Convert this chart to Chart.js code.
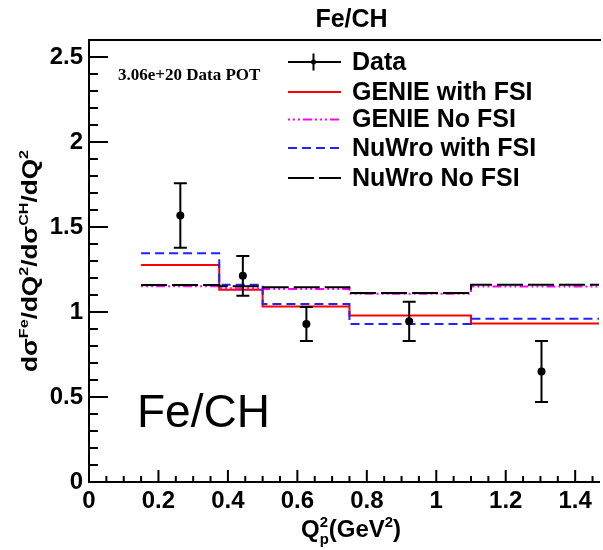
<!DOCTYPE html>
<html>
<head>
<meta charset="utf-8">
<script src="https://cdn.jsdelivr.net/npm/chart.js@4.4.1/dist/chart.umd.min.js"></script>
<style>
  html, body { margin: 0; padding: 0; background: #fff; overflow: hidden; }
</style>
</head>
<body>
<canvas id="ratioChart" width="603" height="550"></canvas>
<script>
const ctx1 = document.getElementById("ratioChart");

// histogram bins (Q2 in GeV^2) and model ratios per bin
const binEdges = [0.15, 0.375, 0.5, 0.75, 1.1, 1.5];
const genieFsi = [1.276, 1.131, 1.033, 0.98, 0.933];
const genieNoFsi = [1.152, 1.14, 1.135, 1.108, 1.15];
const nuwroFsi = [1.345, 1.16, 1.047, 0.93, 0.96];
const nuwroNoFsi = [1.159, 1.151, 1.145, 1.112, 1.16];

// data points with errors
const dataX = [0.263, 0.443, 0.626, 0.922, 1.303];
const dataY = [1.568, 1.213, 0.93, 0.945, 0.65];
const dataErr = [0.19, 0.117, 0.1, 0.115, 0.18];

const xMajorTicks = [0, 0.2, 0.4, 0.6, 0.8, 1, 1.2, 1.4];
const xMinorTicks = [0.05, 0.1, 0.15, 0.25, 0.3, 0.35, 0.45, 0.5, 0.55, 0.65, 0.7, 0.75,
  0.85, 0.9, 0.95, 1.05, 1.1, 1.15, 1.25, 1.3, 1.35, 1.45];
const yMajorTicks = [0, 0.5, 1, 1.5, 2, 2.5];
const yMinorTicks = [0.1, 0.2, 0.3, 0.4, 0.6, 0.7, 0.8, 0.9, 1.1, 1.2, 1.3, 1.4,
  1.6, 1.7, 1.8, 1.9, 2.1, 2.2, 2.3, 2.4, 2.6];

const SANS = "'Liberation Sans', Arial, Helvetica, sans-serif";
const SERIF = "'Liberation Serif', 'Times New Roman', serif";

function histPoints(values) {
  const pts = values.map((v, i) => ({ x: binEdges[i], y: v }));
  pts.push({ x: binEdges[binEdges.length - 1], y: values[values.length - 1] });
  return pts;
}

function histDataset(label, values, color, dash, order) {
  return {
    type: "line",
    label: label,
    data: histPoints(values),
    borderColor: color,
    borderWidth: 2,
    borderDash: dash,
    stepped: "before",
    pointRadius: 0,
    fill: false,
    order: order,
  };
}

// draws text runs with super/subscripts, starting at x (left) on baseline y
function drawRich(ctx, parts, x, y, size) {
  let cx = x;
  parts.forEach((p) => {
    const s = size * (p.scale || 1);
    ctx.font = "bold " + s + "px " + SANS;
    if (p.stack) {
      const w = Math.max(ctx.measureText(p.stack[0]).width, ctx.measureText(p.stack[1]).width);
      ctx.fillText(p.stack[0], cx, y - size * 0.42);
      ctx.fillText(p.stack[1], cx, y + size * 0.28);
      cx += w;
    } else {
      ctx.fillText(p.t, cx, y + (p.dy || 0) * size);
      cx += ctx.measureText(p.t).width;
    }
  });
  return cx - x;
}

function richWidth(ctx, parts, size) {
  let w = 0;
  parts.forEach((p) => {
    const s = size * (p.scale || 1);
    ctx.font = "bold " + s + "px " + SANS;
    if (p.stack) {
      w += Math.max(ctx.measureText(p.stack[0]).width, ctx.measureText(p.stack[1]).width);
    } else {
      w += ctx.measureText(p.t).width;
    }
  });
  return w;
}

const frameAndTicks = {
  id: "frameAndTicks",
  afterDatasetsDraw(chart) {
    const { ctx, chartArea, scales } = chart;
    const x = scales.x;
    const y = scales.y;
    ctx.save();
    ctx.strokeStyle = "#000";
    ctx.lineWidth = 2;
    ctx.beginPath();
    ctx.moveTo(chartArea.left - 1, chartArea.top);
    ctx.lineTo(chartArea.right + 2, chartArea.top);
    yMajorTicks.forEach((v) => {
      const py = y.getPixelForValue(v);
      ctx.moveTo(chartArea.left, py);
      ctx.lineTo(chartArea.left + 19, py);
    });
    yMinorTicks.forEach((v) => {
      const py = y.getPixelForValue(v);
      ctx.moveTo(chartArea.left, py);
      ctx.lineTo(chartArea.left + 9, py);
    });
    xMajorTicks.forEach((v) => {
      const px = x.getPixelForValue(v);
      ctx.moveTo(px, chartArea.bottom);
      ctx.lineTo(px, chartArea.bottom - 12);
    });
    xMinorTicks.forEach((v) => {
      const px = x.getPixelForValue(v);
      ctx.moveTo(px, chartArea.bottom);
      ctx.lineTo(px, chartArea.bottom - 6);
    });
    ctx.stroke();

    // error bars
    ctx.beginPath();
    dataX.forEach((dx, i) => {
      const px = x.getPixelForValue(dx);
      const top = y.getPixelForValue(dataY[i] + dataErr[i]);
      const bot = y.getPixelForValue(dataY[i] - dataErr[i]);
      ctx.moveTo(px, top);
      ctx.lineTo(px, bot);
      ctx.moveTo(px - 6.5, top);
      ctx.lineTo(px + 6.5, top);
      ctx.moveTo(px - 6.5, bot);
      ctx.lineTo(px + 6.5, bot);
    });
    ctx.stroke();
    ctx.restore();
  },
};

const labels = {
  id: "labels",
  afterDraw(chart) {
    const { ctx } = chart;
    ctx.save();
    ctx.fillStyle = "#000";

    // pad title
    ctx.font = "bold 25px " + SANS;
    ctx.textAlign = "center";
    ctx.textBaseline = "middle";
    ctx.fillText("Fe/CH", 351.5, 20);

    // exposure
    ctx.font = "bold 17px " + SERIF;
    ctx.textAlign = "left";
    ctx.fillText("3.06e+20 Data POT", 118, 76);

    // big label
    ctx.font = "46px " + SANS;
    ctx.textBaseline = "alphabetic";
    ctx.fillText("Fe/CH", 137, 427);

    // legend
    const rows = [62, 92, 119.5, 148, 178];
    const order = [0, 1, 2, 3, 4];
    ctx.textBaseline = "middle";
    order.forEach((di, r) => {
      const ds = chart.data.datasets[di];
      const ry = rows[r];
      ctx.strokeStyle = ds.borderColor;
      ctx.lineWidth = 2;
      ctx.setLineDash(ds.borderDash || []);
      ctx.beginPath();
      ctx.moveTo(288, ry);
      ctx.lineTo(341, ry);
      ctx.stroke();
      ctx.setLineDash([]);
      if (di === 0) {
        ctx.beginPath();
        ctx.moveTo(313.5, ry - 8.5);
        ctx.lineTo(313.5, ry + 8.5);
        ctx.stroke();
        ctx.beginPath();
        ctx.arc(313.5, ry, 2.5, 0, Math.PI * 2);
        ctx.fillStyle = "#000";
        ctx.fill();
      }
      ctx.fillStyle = "#000";
      ctx.font = "bold 25px " + SANS;
      ctx.fillText(ds.label, 352, ry + 1);
    });

    // x axis title
    ctx.textBaseline = "alphabetic";
    ctx.textAlign = "left";
    drawRich(ctx, [
      { t: "Q" },
      { stack: ["2", "p"], scale: 0.62 },
      { t: "(GeV" },
      { t: "2", scale: 0.62, dy: -0.42 },
      { t: ")" },
    ], 301, 537, 24);

    // y axis title (rotated)
    const yParts = [
      { t: "d\u03c3" },
      { t: "Fe", scale: 0.62, dy: -0.42 },
      { t: "/dQ" },
      { t: "2", scale: 0.62, dy: -0.42 },
      { t: "/d\u03c3" },
      { t: "CH", scale: 0.62, dy: -0.42 },
      { t: "/dQ" },
      { t: "2", scale: 0.62, dy: -0.42 },
    ];
    const ySize = 22;
    const w = richWidth(ctx, yParts, ySize);
    ctx.translate(37, 261);
    ctx.rotate(-Math.PI / 2);
    ctx.scale(222 / w, 1);
    drawRich(ctx, yParts, -w / 2, 0, ySize);
    ctx.restore();
  },
};

function makeRatio() {
  new Chart(ctx1, {
    data: {
      datasets: [
        {
          type: "scatter",
          label: "Data",
          data: dataX.map((x, i) => ({ x: x, y: dataY[i] })),
          backgroundColor: "#000",
          borderColor: "#000",
          borderWidth: 0,
          pointRadius: 4,
          order: 0,
        },
        histDataset("GENIE with FSI", genieFsi, "#ff0000", [], 4),
        histDataset("GENIE No FSI", genieNoFsi, "#ff00ff", [2, 3, 2, 3, 2, 3, 9, 3], 3),
        histDataset("NuWro with FSI", nuwroFsi, "#2222ff", [9, 5], 2),
        histDataset("NuWro No FSI", nuwroNoFsi, "#000000", [26, 5], 1),
      ],
    },
    options: {
      responsive: false,
      animation: false,
      devicePixelRatio: 1,
      layout: { padding: { top: 40, left: 0, right: 0, bottom: 0 } },
      plugins: {
        legend: { display: false },
        title: { display: false },
        tooltip: { enabled: false },
      },
      scales: {
        x: {
          type: "linear",
          min: 0,
          max: 1.4686,
          afterBuildTicks: (s) => {
            s.ticks = xMajorTicks.map((v) => ({ value: v }));
          },
          afterFit: (s) => {
            s.height = 68;
            s.paddingLeft = 0;
            s.paddingRight = 0;
          },
          grid: { display: false, drawTicks: false },
          border: { display: true, color: "#000", width: 2 },
          ticks: {
            color: "#000",
            padding: 7,
            maxRotation: 0,
            autoSkip: false,
            font: { family: SANS, size: 24, weight: "bold", lineHeight: 1 },
            callback: (v) => String(v),
          },
        },
        y: {
          type: "linear",
          min: 0,
          max: 2.6,
          afterBuildTicks: (s) => {
            s.ticks = yMajorTicks.map((v) => ({ value: v }));
          },
          afterFit: (s) => {
            s.width = 89;
            s.paddingTop = 0;
            s.paddingBottom = 0;
          },
          grid: { display: false, drawTicks: false },
          border: { display: true, color: "#000", width: 2 },
          ticks: {
            color: "#000",
            padding: 6,
            autoSkip: false,
            font: { family: SANS, size: 24, weight: "bold", lineHeight: 1 },
            callback: (v) => String(v),
          },
        },
      },
    },
    plugins: [frameAndTicks, labels],
  });
}

makeRatio();
</script>
</body>
</html>
